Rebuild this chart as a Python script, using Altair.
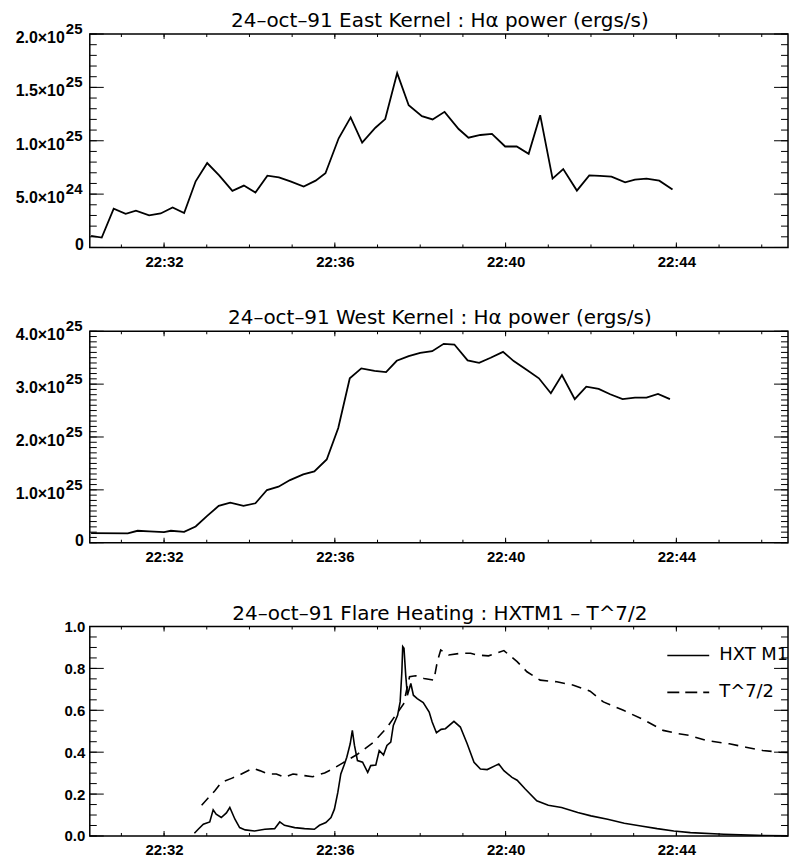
import altair as alt
import pandas as pd

FONT = "Liberation Sans"
TFONT = "DejaVu Sans"

# ---------------- data (time = minutes after 22:00 UT) ----------------
east_t = [30.29, 30.54, 30.82, 31.10, 31.34, 31.65, 31.92, 32.20, 32.47, 32.74,
          33.01, 33.29, 33.60, 33.87, 34.14, 34.42, 34.69, 34.96, 35.27, 35.55,
          35.78, 36.09, 36.37, 36.64, 36.95, 37.18, 37.46, 37.73, 38.04, 38.29,
          38.57, 38.90, 39.13, 39.41, 39.68, 39.99, 40.26, 40.54, 40.81, 41.10,
          41.35, 41.67, 41.96, 42.21, 42.48, 42.80, 43.03, 43.30, 43.60, 43.91]
# East kernel H-alpha power, units of 1e25 erg/s
east_p = [0.109, 0.093, 0.363, 0.316, 0.344, 0.301, 0.319, 0.375, 0.322, 0.620,
          0.791, 0.676, 0.530, 0.580, 0.515, 0.673, 0.657, 0.620, 0.571, 0.626,
          0.695, 1.023, 1.219, 0.983, 1.122, 1.203, 1.634, 1.333, 1.231, 1.200,
          1.271, 1.110, 1.029, 1.054, 1.064, 0.946, 0.946, 0.878, 1.240, 0.645,
          0.735, 0.533, 0.676, 0.670, 0.664, 0.611, 0.636, 0.645, 0.626, 0.543]

west_t = [30.29, 31.15, 31.38, 31.65, 32.00, 32.16, 32.47, 32.74, 33.01, 33.28,
          33.55, 33.86, 34.14, 34.41, 34.68, 34.95, 35.26, 35.52, 35.81, 36.08,
          36.35, 36.62, 36.93, 37.20, 37.45, 37.73, 38.00, 38.28, 38.55, 38.80,
          39.11, 39.38, 39.65, 39.94, 40.19, 40.50, 40.78, 41.06, 41.32, 41.62,
          41.89, 42.18, 42.45, 42.74, 43.03, 43.30, 43.57, 43.85]
# West kernel H-alpha power, units of 1e25 erg/s
west_p = [0.182, 0.176, 0.226, 0.213, 0.200, 0.226, 0.207, 0.307, 0.508, 0.696,
          0.759, 0.696, 0.746, 0.997, 1.060, 1.185, 1.292, 1.348, 1.574, 2.169,
          3.110, 3.298, 3.250, 3.229, 3.442, 3.530, 3.592, 3.624, 3.762, 3.749,
          3.448, 3.404, 3.498, 3.611, 3.436, 3.266, 3.110, 2.828, 3.172, 2.715,
          2.953, 2.909, 2.809, 2.715, 2.746, 2.746, 2.815, 2.715]

hxt_t = [32.71, 32.80, 32.92, 33.07, 33.15, 33.22, 33.34, 33.46, 33.54, 33.66,
         33.77, 33.90, 34.12, 34.36, 34.59, 34.71, 34.82, 35.06, 35.29, 35.52,
         35.64, 35.79, 35.91, 35.99, 36.07, 36.14, 36.22, 36.28, 36.36, 36.41,
         36.46, 36.53, 36.65, 36.77, 36.84, 36.96, 37.04, 37.14, 37.22, 37.31,
         37.37, 37.47, 37.53, 37.57, 37.59, 37.62, 37.66, 37.70, 37.78, 37.84,
         37.93, 38.07, 38.21, 38.28, 38.38, 38.49, 38.59, 38.79, 38.94, 39.10,
         39.26, 39.41, 39.57, 39.76, 39.84, 39.96, 40.15, 40.27, 40.46, 40.73,
         41.00, 41.31, 41.69, 42.00, 42.39, 42.78, 43.17, 43.55, 43.94, 44.33,
         45.11, 45.89, 46.72]
hxt_v = [0.013, 0.032, 0.056, 0.067, 0.125, 0.104, 0.088, 0.110, 0.136, 0.080,
         0.040, 0.029, 0.024, 0.032, 0.035, 0.067, 0.051, 0.040, 0.035, 0.032,
         0.051, 0.064, 0.088, 0.128, 0.208, 0.296, 0.340, 0.376, 0.440, 0.504,
         0.432, 0.360, 0.352, 0.304, 0.336, 0.339, 0.408, 0.387, 0.432, 0.448,
         0.528, 0.576, 0.640, 0.784, 0.904, 0.896, 0.768, 0.672, 0.728, 0.672,
         0.656, 0.637, 0.592, 0.544, 0.493, 0.509, 0.512, 0.547, 0.520, 0.440,
         0.352, 0.320, 0.317, 0.336, 0.344, 0.312, 0.280, 0.266, 0.224, 0.168,
         0.147, 0.136, 0.112, 0.096, 0.080, 0.061, 0.048, 0.035, 0.024, 0.016,
         0.008, 0.003, 0.000]

t72_t = [32.88, 33.19, 33.34, 33.58, 33.77, 34.08, 34.24, 34.43, 34.63, 34.82,
         35.02, 35.29, 35.48, 35.76, 35.95, 36.18, 36.53, 36.92, 37.23, 37.47,
         37.61, 37.75, 37.89, 38.09, 38.32, 38.40, 38.48, 38.67, 38.94, 39.18,
         39.33, 39.60, 39.96, 40.27, 40.50, 40.81, 41.20, 41.59, 41.98, 42.29,
         42.76, 43.22, 43.69, 44.00, 44.31, 44.70, 45.24, 45.63, 46.02, 46.41,
         46.81]
t72_v = [0.147, 0.216, 0.256, 0.275, 0.291, 0.323, 0.312, 0.296, 0.296, 0.280,
         0.296, 0.288, 0.283, 0.301, 0.320, 0.348, 0.390, 0.450, 0.520, 0.590,
         0.630, 0.760, 0.765, 0.752, 0.744, 0.832, 0.888, 0.864, 0.872, 0.872,
         0.864, 0.860, 0.885, 0.832, 0.784, 0.744, 0.736, 0.720, 0.691, 0.640,
         0.600, 0.556, 0.504, 0.490, 0.480, 0.456, 0.440, 0.424, 0.408, 0.400,
         0.397]

titles = ["24–oct–91 East Kernel : Hα power (ergs/s)",
          "24–oct–91 West Kernel : Hα power (ergs/s)",
          "24–oct–91 Flare Heating : HXTM1 – T^7/2"]

x_label_mins = [32, 36, 40, 44]
p1_ticks = [0, 0.5, 1.0, 1.5, 2.0]
p1_base = ["0", "5.0×10", "1.0×10", "1.5×10", "2.0×10"]
p1_exp = ["", "24", "25", "25", "25"]
p2_ticks = [0, 1.0, 2.0, 3.0, 4.0]
p2_base = ["0", "1.0×10", "2.0×10", "3.0×10", "4.0×10"]
p2_exp = ["", "25", "25", "25", "25"]
p3_ticks = [0.0, 0.2, 0.4, 0.6, 0.8, 1.0]
legend_labels = ["HXT M1", "T^7/2"]

# ---------------- layout ----------------
W = 700
X_DOMAIN = [30.26, 30.26 + W / 42.8]
XMAJ_LEN, XMIN_LEN = 5, 3
YMAJ_LEN, YMIN_LEN = 14, 7


def frange(a, b, step):
    n = int(round((b - a) / step))
    return [round(a + i * step, 6) for i in range(n + 1)]


xscale = alt.Scale(domain=X_DOMAIN, nice=False, zero=False)
xaxis = alt.Axis(values=x_label_mins, labelExpr="'22:' + datum.value",
                 ticks=False, domain=False, grid=False, title=None,
                 labelFont=FONT, labelFontSize=15, labelFontWeight="bold",
                 labelColor="black", labelPadding=7)


def X():
    return alt.X("t:Q", scale=xscale, axis=xaxis)


def tick_layers(H, yscale, yaxis, y_major, y_minor):
    x_minor = pd.DataFrame({"t": [m for m in range(31, 47) if m < X_DOMAIN[1]]})
    x_major = pd.DataFrame({"t": x_label_mins})
    ymj = pd.DataFrame({"v": y_major})
    ymn = pd.DataFrame({"v": y_minor})
    layers = []
    for df, ln in ((x_minor, XMIN_LEN), (x_major, XMAJ_LEN)):
        layers.append(alt.Chart(df).mark_rule(color="black", strokeWidth=1).encode(
            x=X(), y=alt.value(H), y2=alt.value(H - ln)))
        layers.append(alt.Chart(df).mark_rule(color="black", strokeWidth=1).encode(
            x=X(), y=alt.value(0), y2=alt.value(ln)))
    for df, ln in ((ymn, YMIN_LEN), (ymj, YMAJ_LEN)):
        ye = alt.Y("v:Q", scale=yscale, axis=yaxis)
        layers.append(alt.Chart(df).mark_rule(color="black", strokeWidth=1).encode(
            y=ye, x=alt.value(0), x2=alt.value(ln)))
        layers.append(alt.Chart(df).mark_rule(color="black", strokeWidth=1).encode(
            y=ye, x=alt.value(W), x2=alt.value(W - ln)))
    return layers


def sci_labels(yscale, ticks, base, exp):
    df = pd.DataFrame({"v": ticks[1:], "base": base[1:], "exp": exp[1:]})
    zero = pd.DataFrame({"v": ticks[:1], "base": base[:1]})
    ye = alt.Y("v:Q", scale=yscale, axis=None)
    b = alt.Chart(df).mark_text(align="right", baseline="alphabetic", font=FONT,
                                fontSize=16, fontWeight="bold", color="black", dy=9).encode(
        x=alt.value(-25), y=ye, text="base:N")
    e = alt.Chart(df).mark_text(align="left", baseline="alphabetic", font=FONT,
                                fontSize=15, fontWeight="bold", color="black", dy=0).encode(
        x=alt.value(-24), y=ye, text="exp:N")
    z = alt.Chart(zero).mark_text(align="right", baseline="middle", font=FONT,
                                  fontSize=16, fontWeight="bold", color="black", dy=-2).encode(
        x=alt.value(-6), y=ye, text="base:N")
    return [b, e, z]


def title_layer(text):
    return alt.Chart(pd.DataFrame({"title": [text]})).mark_text(
        align="center", baseline="alphabetic", font=TFONT, fontSize=20,
        color="black").encode(x=alt.value(W / 2 + 1), y=alt.value(-7), text="title:N")


def power_panel(title, t, p, ydom, ticks, base, exp, minor_step, H):
    yscale = alt.Scale(domain=ydom, nice=False, zero=False)
    df = pd.DataFrame({"t": t, "v": p})
    line = alt.Chart(df).mark_line(color="black", strokeWidth=1.8, clip=True).encode(
        x=X(), y=alt.Y("v:Q", scale=yscale, axis=None))
    layers = [line] + tick_layers(H, yscale, None, ticks, frange(ydom[0], ydom[1], minor_step)) \
        + sci_labels(yscale, ticks, base, exp) + [title_layer(title)]
    return alt.layer(*layers).properties(width=W, height=H)


p1 = power_panel(titles[0], east_t, east_p, [0, 2.0], p1_ticks, p1_base, p1_exp, 0.1, 214)
p2 = power_panel(titles[1], west_t, west_p, [0, 4.0], p2_ticks, p2_base, p2_exp, 0.1, 212)

# panel 3
H3 = 210
yscale3 = alt.Scale(domain=[0, 1.0], nice=False, zero=False)
yaxis3 = alt.Axis(values=p3_ticks, format=".1f", ticks=False, domain=False, grid=False,
                  title=None, labelFont=FONT, labelFontSize=15, labelFontWeight="bold",
                  labelColor="black", labelPadding=5)
hxt_df = pd.DataFrame({"t": hxt_t, "v": hxt_v})
t72_df = pd.DataFrame({"t": t72_t, "v": t72_v})
hxt_line = alt.Chart(hxt_df).mark_line(color="black", strokeWidth=1.6, clip=True).encode(
    x=X(), y=alt.Y("v:Q", scale=yscale3, axis=yaxis3))
t72_line = alt.Chart(t72_df).mark_line(color="black", strokeWidth=1.6, strokeDash=[10, 7],
                                       clip=True).encode(
    x=X(), y=alt.Y("v:Q", scale=yscale3, axis=yaxis3))

leg_solid = alt.Chart(pd.DataFrame({"label": legend_labels[:1]})).mark_rule(
    color="black", strokeWidth=1.6).encode(x=alt.value(579), x2=alt.value(621), y=alt.value(29))
leg_dash = alt.Chart(pd.DataFrame({"label": legend_labels[1:]})).mark_rule(
    color="black", strokeWidth=1.6, strokeDash=[12, 6]).encode(
    x=alt.value(579), x2=alt.value(621), y=alt.value(66))
leg_t1 = alt.Chart(pd.DataFrame({"label": legend_labels[:1]})).mark_text(
    align="left", baseline="middle", font=TFONT, fontSize=18, color="black").encode(
    x=alt.value(631), y=alt.value(29), text="label:N")
leg_t2 = alt.Chart(pd.DataFrame({"label": legend_labels[1:]})).mark_text(
    align="left", baseline="middle", font=TFONT, fontSize=18, color="black").encode(
    x=alt.value(631), y=alt.value(66), text="label:N")

p3_layers = [hxt_line, t72_line] + tick_layers(H3, yscale3, yaxis3, p3_ticks, frange(0, 1.0, 0.05)) \
    + [leg_solid, leg_dash, leg_t1, leg_t2, title_layer(titles[2])]
p3 = alt.layer(*p3_layers).properties(width=W, height=H3)

chart = alt.vconcat(p1, p2, p3, spacing=84, bounds="flush").properties(
    padding={"left": 6, "top": 1, "right": 0, "bottom": 0},
    background="white",
).configure_view(stroke="black", strokeWidth=1.5)

chart.save("out.html", embed_options={"renderer": "svg", "actions": False})
